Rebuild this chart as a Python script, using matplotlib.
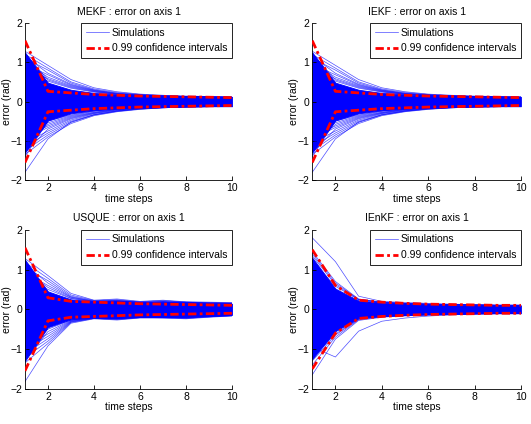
import numpy as np
import matplotlib
matplotlib.use("Agg")
import matplotlib.pyplot as plt

plt.rcParams['font.family'] = ['Liberation Sans', 'DejaVu Sans']
plt.rcParams['font.size'] = 7.5

steps = [1, 2, 3, 4, 5, 6, 7, 8, 9, 10]

# 0.99 confidence bound (upper; lower is the mirror)
conf_mekf = [1.55, 0.26, 0.22, 0.18, 0.16, 0.14, 0.13, 0.12, 0.11, 0.10]
conf_iekf = [1.55, 0.26, 0.22, 0.18, 0.16, 0.14, 0.13, 0.12, 0.11, 0.10]
conf_usque = [1.55, 0.29, 0.20, 0.18, 0.16, 0.14, 0.13, 0.12, 0.11, 0.10]
conf_ienkf = [1.50, 0.60, 0.23, 0.18, 0.15, 0.13, 0.12, 0.11, 0.10, 0.10]

# dense core of the simulation bundle (where lines overlap completely)
core_hi_mekf = [1.25, 0.48, 0.30, 0.22, 0.18, 0.16, 0.14, 0.13, 0.12, 0.12]
core_lo_mekf = [-1.30, -0.48, -0.30, -0.22, -0.18, -0.16, -0.14, -0.13, -0.12, -0.12]
core_hi_usque = [1.25, 0.45, 0.25, 0.20, 0.22, 0.18, 0.19, 0.17, 0.15, 0.14]
core_lo_usque = [-1.30, -0.45, -0.25, -0.21, -0.22, -0.19, -0.20, -0.19, -0.16, -0.14]
core_hi_ienkf = [1.30, 0.52, 0.22, 0.17, 0.15, 0.13, 0.12, 0.11, 0.10, 0.10]
core_lo_ienkf = [-1.25, -0.55, -0.22, -0.17, -0.15, -0.13, -0.12, -0.11, -0.10, -0.10]

# visible individual runs outside the core
sims_mekf = [
    [1.28, 0.92, 0.56, 0.35, 0.25, 0.19, 0.16, 0.14, 0.13, 0.12],
    [1.20, 0.85, 0.50, 0.32, 0.23, 0.18, 0.15, 0.13, 0.12, 0.11],
    [1.10, 0.80, 0.47, 0.30, 0.21, 0.17, 0.15, 0.13, 0.12, 0.11],
    [1.15, 0.72, 0.44, 0.29, 0.21, 0.17, 0.14, 0.13, 0.12, 0.11],
    [0.95, 0.68, 0.42, 0.28, 0.20, 0.16, 0.14, 0.13, 0.12, 0.11],
    [1.00, 0.62, 0.40, 0.27, 0.19, 0.16, 0.14, 0.12, 0.11, 0.11],
    [0.85, 0.58, 0.38, 0.26, 0.19, 0.15, 0.13, 0.12, 0.11, 0.10],
    [1.22, 0.55, 0.36, 0.25, 0.18, 0.15, 0.13, 0.12, 0.11, 0.10],
    [0.70, 0.52, 0.34, 0.24, 0.18, 0.15, 0.13, 0.12, 0.11, 0.10],
    [-1.80, -0.95, -0.52, -0.34, -0.24, -0.19, -0.16, -0.14, -0.13, -0.12],
    [-1.35, -0.90, -0.56, -0.36, -0.26, -0.20, -0.16, -0.14, -0.13, -0.12],
    [-1.25, -0.85, -0.53, -0.34, -0.25, -0.19, -0.16, -0.14, -0.13, -0.12],
    [-1.15, -0.80, -0.50, -0.33, -0.24, -0.18, -0.15, -0.13, -0.12, -0.11],
    [-1.05, -0.75, -0.47, -0.31, -0.23, -0.18, -0.15, -0.13, -0.12, -0.11],
    [-1.30, -0.70, -0.44, -0.30, -0.22, -0.17, -0.14, -0.13, -0.12, -0.11],
    [-0.95, -0.66, -0.42, -0.29, -0.21, -0.17, -0.14, -0.13, -0.12, -0.11],
    [-0.90, -0.62, -0.40, -0.28, -0.20, -0.16, -0.14, -0.12, -0.11, -0.11],
    [-1.10, -0.58, -0.38, -0.27, -0.20, -0.16, -0.13, -0.12, -0.11, -0.10],
    [-0.80, -0.54, -0.36, -0.25, -0.19, -0.15, -0.13, -0.12, -0.11, -0.10],
    [-1.40, -0.50, -0.34, -0.24, -0.18, -0.15, -0.13, -0.12, -0.11, -0.10],
]
sims_iekf = sims_mekf

sims_usque = [
    [1.28, 0.85, 0.40, 0.23, 0.26, 0.20, 0.23, 0.19, 0.18, 0.17],
    [1.18, 0.78, 0.36, 0.22, 0.24, 0.19, 0.22, 0.18, 0.17, 0.16],
    [1.05, 0.72, 0.33, 0.21, 0.23, 0.18, 0.20, 0.18, 0.16, 0.15],
    [1.12, 0.66, 0.31, 0.20, 0.22, 0.18, 0.19, 0.17, 0.16, 0.15],
    [0.92, 0.60, 0.30, 0.20, 0.21, 0.17, 0.19, 0.17, 0.15, 0.14],
    [0.98, 0.55, 0.28, 0.19, 0.20, 0.17, 0.18, 0.16, 0.15, 0.14],
    [0.80, 0.50, 0.27, 0.19, 0.20, 0.16, 0.18, 0.16, 0.15, 0.14],
    [-1.82, -0.92, -0.35, -0.24, -0.27, -0.22, -0.22, -0.24, -0.20, -0.17],
    [-1.35, -0.86, -0.33, -0.23, -0.26, -0.21, -0.21, -0.23, -0.19, -0.16],
    [-1.22, -0.80, -0.32, -0.23, -0.25, -0.21, -0.21, -0.22, -0.19, -0.16],
    [-1.12, -0.74, -0.31, -0.22, -0.24, -0.20, -0.20, -0.22, -0.18, -0.16],
    [-1.02, -0.68, -0.30, -0.22, -0.24, -0.20, -0.20, -0.21, -0.18, -0.15],
    [-0.95, -0.62, -0.29, -0.21, -0.23, -0.19, -0.20, -0.21, -0.17, -0.15],
    [-1.28, -0.56, -0.28, -0.21, -0.23, -0.19, -0.19, -0.20, -0.17, -0.15],
    [-0.85, -0.50, -0.27, -0.20, -0.22, -0.19, -0.19, -0.20, -0.17, -0.15],
]

sims_ienkf = [
    [1.80, 1.20, 0.33, 0.20, 0.17, 0.15, 0.13, 0.12, 0.11, 0.11],
    [1.45, 0.70, 0.26, 0.18, 0.15, 0.13, 0.12, 0.11, 0.10, 0.10],
    [1.40, 0.66, 0.25, 0.18, 0.15, 0.13, 0.12, 0.11, 0.10, 0.10],
    [1.35, 0.62, 0.24, 0.17, 0.15, 0.13, 0.12, 0.11, 0.10, 0.10],
    [1.20, 0.58, 0.24, 0.17, 0.14, 0.13, 0.12, 0.11, 0.10, 0.10],
    [-0.95, -1.20, -0.55, -0.30, -0.22, -0.17, -0.14, -0.12, -0.11, -0.11],
    [-1.65, -0.75, -0.28, -0.20, -0.16, -0.14, -0.12, -0.11, -0.11, -0.10],
    [-1.40, -0.70, -0.26, -0.19, -0.16, -0.14, -0.12, -0.11, -0.10, -0.10],
    [-1.30, -0.65, -0.25, -0.18, -0.15, -0.13, -0.12, -0.11, -0.10, -0.10],
    [-1.20, -0.62, -0.24, -0.18, -0.15, -0.13, -0.12, -0.11, -0.10, -0.10],
]

panels = [
    ("MEKF", sims_mekf, core_hi_mekf, core_lo_mekf, conf_mekf),
    ("IEKF", sims_iekf, core_hi_mekf, core_lo_mekf, conf_iekf),
    ("USQUE", sims_usque, core_hi_usque, core_lo_usque, conf_usque),
    ("IEnKF", sims_ienkf, core_hi_ienkf, core_lo_ienkf, conf_ienkf),
]

# axes boxes in figure fractions (left, bottom, width, height)
boxes = [
    [0.047, 0.575, 0.390, 0.371],
    [0.588, 0.575, 0.393, 0.371],
    [0.047, 0.083, 0.390, 0.375],
    [0.588, 0.083, 0.393, 0.375],
]

dashdot = (0, (3, 1.2, 1, 1.2))

fig = plt.figure(figsize=(5.31, 4.24), dpi=100)

for (name, sims, chi, clo, conf), box in zip(panels, boxes):
    ax = fig.add_axes(box)
    ax.fill_between(steps, clo, chi, color='#0000ff', lw=0.6, zorder=1)
    for s in sims:
        ax.plot(steps, s, color='#0000ff', lw=0.5, alpha=0.7, zorder=2)
    ax.plot(steps, conf, color='#ff0000', lw=2, ls=dashdot, zorder=3)
    ax.plot(steps, -np.array(conf), color='#ff0000', lw=2, ls=dashdot, zorder=3)

    ax.set_xlim(1, 10)
    ax.set_ylim(-2, 2)
    ax.set_xticks([2, 4, 6, 8, 10])
    ax.set_yticks([-2, -1, 0, 1, 2])
    ax.spines['top'].set_visible(False)
    ax.spines['right'].set_visible(False)
    ax.spines['left'].set_linewidth(0.6)
    ax.spines['bottom'].set_linewidth(0.6)
    ax.tick_params(direction='in', length=3, width=0.6, labelsize=7.5, pad=2)
    ax.set_title(name + " : error on axis 1", fontsize=7.5, pad=6)
    ax.set_xlabel("time steps", fontsize=7.5, labelpad=0.5)
    ax.set_ylabel("error (rad)", fontsize=7.5)
    ax.yaxis.set_label_coords(-0.062, 0.5)

    h1, = ax.plot([], [], color='#0000ff', lw=0.5, alpha=0.7)
    h2, = ax.plot([], [], color='#ff0000', lw=2, ls=dashdot)
    leg = ax.legend([h1, h2], ["Simulations", "0.99 confidence intervals"],
                    loc='upper right', borderaxespad=0, fontsize=7.5,
                    fancybox=False, framealpha=1, edgecolor='black',
                    handlelength=2.2, handletextpad=0.3, borderpad=0.45,
                    labelspacing=0.55)
    leg.get_frame().set_linewidth(0.6)

fig.savefig("out.png", dpi=100)
